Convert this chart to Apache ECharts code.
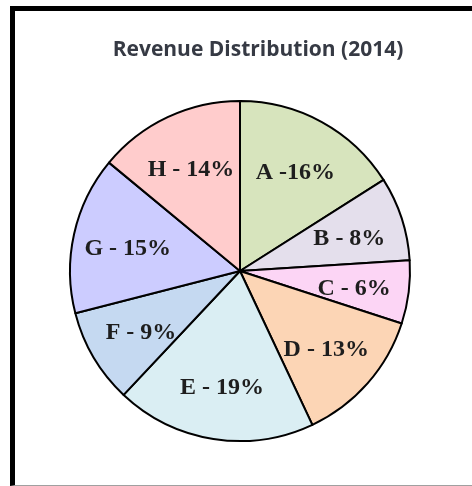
<!DOCTYPE html>
<html>
<head>
<meta charset="utf-8">
<script src="https://cdn.jsdelivr.net/npm/echarts@6/dist/echarts.min.js"></script>
<style>
  html, body { margin: 0; padding: 0; background: #fff; }
  #chart { width: 472px; height: 486px; }
  #frame {
    position: absolute; left: 10px; top: 6px; width: 480px; height: 474px;
    border-left: 5px solid #000; border-top: 5px solid #000; border-bottom: 1px solid #a0a0a0;
    pointer-events: none;
  }
</style>
</head>
<body>
<div id="chart"></div>
<div id="frame"></div>
<script>
// segments, clockwise from 12 o'clock
const names = ['A', 'B', 'C', 'D', 'E', 'F', 'G', 'H']
const shares = [16, 8, 6, 13, 19, 9, 15, 14]
const colors = ['#d7e4bd', '#e4dfec', '#fcd5f5', '#fcd5b5', '#daeef3', '#c5d9f1', '#ccccff', '#ffcccc']

const data = names.map((n, i) => {
  return { name: n, value: shares[i], itemStyle: { color: colors[i] } }
})

var myChart = echarts.init(document.getElementById('chart'))

var option = {
  animation: false,
  title: {
    text: 'Revenue Distribution (2014)',
    left: 253,
    top: 35,
    textAlign: 'center',
    textStyle: {
      fontFamily: 'Open Sans',
      fontWeight: 'bold',
      fontSize: 21,
      color: '#363a44'
    }
  },
  series: [
    {
      type: 'pie',
      center: [240, 271],
      radius: [0, 170],
      startAngle: 90,
      clockwise: true,
      silent: true,
      label: { show: false },
      labelLine: { show: false },
      itemStyle: { borderColor: '#000', borderWidth: 2 },
      data: data
    },
    {
      // transparent ring, only here to put the labels further out
      type: 'pie',
      center: [240, 274],
      radius: [54, 170],
      startAngle: 90,
      clockwise: true,
      silent: true,
      itemStyle: { color: 'rgba(0,0,0,0)', borderWidth: 0 },
      label: {
        show: true,
        position: 'inside',
        formatter: (p) => p.name === 'A' ? p.name + ' -' + p.value + '%' : p.name + ' - ' + p.value + '%',
        fontFamily: 'Liberation Serif',
        fontWeight: 'bold',
        fontSize: 24,
        color: '#1e1e1e'
      },
      labelLine: { show: false },
      data: names.map((n, i) => ({ name: n, value: shares[i] }))
    }
  ]
}

myChart.setOption(option)
</script>
</body>
</html>
